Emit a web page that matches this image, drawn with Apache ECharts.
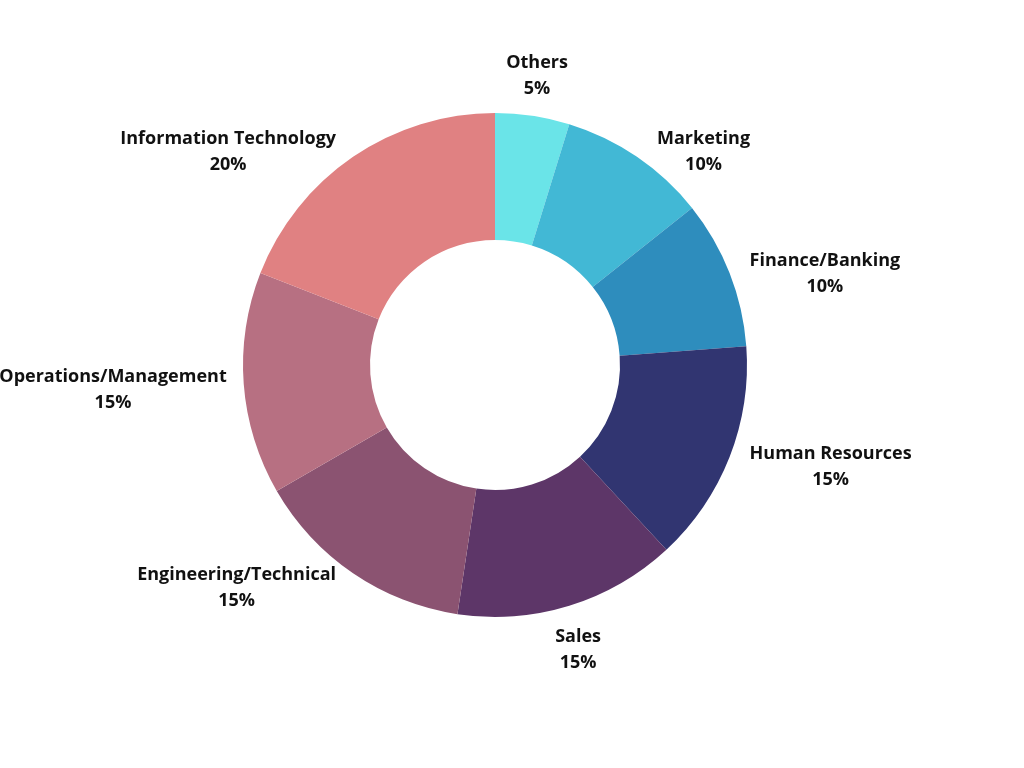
<!DOCTYPE html>
<html>
<head>
<meta charset="utf-8">
<script src="https://cdn.jsdelivr.net/npm/echarts@6/dist/echarts.min.js"></script>
<style>
html,body{margin:0;padding:0;background:#fff;}
#chart{width:1024px;height:768px;}
</style>
</head>
<body>
<div id="chart"></div>
<script>
const categories = ['Others', 'Marketing', 'Finance/Banking', 'Human Resources', 'Sales', 'Engineering/Technical', 'Operations/Management', 'Information Technology'];
const values = [5, 10, 10, 15, 15, 15, 15, 20];
const colors = ['#6AE4E8', '#42B8D5', '#2E8DBD', '#313571', '#5D3668', '#8B5371', '#B77082', '#E08182'];

const CX = 495, CY = 365;
const chart = echarts.init(document.getElementById('chart'));

chart.setOption({
  animation: false,
  backgroundColor: '#ffffff',
  series: [{
    type: 'pie',
    center: [CX, CY],
    radius: [125, 252],
    startAngle: 90,
    clockwise: true,
    avoidLabelOverlap: false,
    emphasis: { disabled: true },
    itemStyle: { borderWidth: 0 },
    data: categories.map((c, i) => ({ name: c, value: values[i], itemStyle: { color: colors[i] } })),
    label: {
      show: true,
      position: 'outside',
      formatter: '{n|{b}}\n{n|{c}%}',
      rich: {
        n: {
          fontFamily: '"Open Sans", sans-serif',
          fontWeight: 'bold',
          fontSize: 18,
          lineHeight: 26,
          color: '#111111',
          align: 'center'
        }
      }
    },
    labelLine: { show: true, length: 4, length2: 0, lineStyle: { opacity: 0, width: 0 } },
    labelLayout: function (params) {
      const pts = params.labelLinePoints;
      if (!pts || !pts[0]) return {};
      const p0 = pts[0];
      const dx = p0[0] - CX, dy = p0[1] - CY;
      const len = Math.sqrt(dx * dx + dy * dy) || 1;
      const ux = dx / len, uy = dy / len;
      if (Math.abs(ux) > 0.3) {
        return {
          x: p0[0] + (ux > 0 ? 20 : -17),
          y: p0[1] + 5 + 12 * uy,
          align: ux > 0 ? 'left' : 'right',
          verticalAlign: 'middle'
        };
      }
      return {
        x: p0[0] + 30 * ux,
        y: uy < 0 ? p0[1] - 14 : p0[1] + 18,
        align: 'center',
        verticalAlign: uy < 0 ? 'bottom' : 'top'
      };
    }
  }]
});
</script>
</body>
</html>
